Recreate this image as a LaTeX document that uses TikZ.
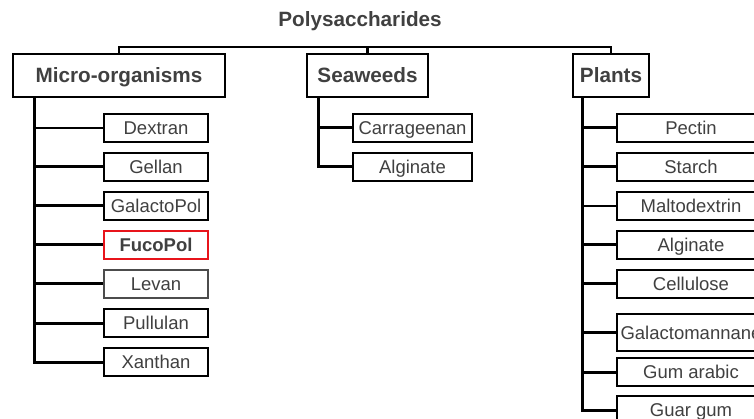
\documentclass[tikz,border=0pt]{standalone}
\usepackage{fontspec}
\setmainfont{Liberation Sans}
\definecolor{txt}{HTML}{404040}
\definecolor{fred}{HTML}{E8141B}
\begin{document}
\begin{tikzpicture}[x=1pt,y=-1pt,
  leaf/.style={draw=black, line width=1.3pt, fill=white, inner sep=0pt,
    text height=13.3pt, text depth=0pt, minimum height=28pt,
    font=\fontsize{18.5}{20}\selectfont, text=txt},
  head/.style={draw=black, line width=1.3pt, fill=white, inner sep=0pt,
    minimum height=43pt, text height=14.8pt, text depth=0pt,
    font=\fontsize{20.7}{24}\selectfont\bfseries, text=txt},
  micro/.style={leaf, minimum width=104pt},
  sea/.style={leaf, minimum width=119pt},
  plant/.style={leaf, minimum width=148pt},
  thickc/.style={line width=3pt},
  thinc/.style={line width=1.2pt},
  busc/.style={line width=2.6pt}]
\useasboundingbox (0,0) rectangle (754,419);

% title
\node[inner sep=0pt, text height=14.8pt, text depth=0pt,
  font=\fontsize{20.7}{24}\selectfont\bfseries, text=txt] (title) at (360,19.5) {Polysaccharides};

% headers
\node[head, minimum width=212pt] (micro) at (119,75.5) {Micro-organisms};
\node[head, minimum width=121pt] (sea) at (367.5,75.5) {Seaweeds};
\node[head, minimum width=76pt] (plants) at (611,75.5) {Plants};

\coordinate (top) at (360,47);
\draw[busc] (micro.north) -- (micro.north |- top) -| (plants.north);
\draw[busc] (sea.north) -- (sea.north |- top);

% micro-organisms
\node[micro] (dextran) at (156,128) {Dextran};
\node[micro] (gellan) at (156,167) {Gellan};
\node[micro] (galacto) at (156,206) {GalactoPol};
\node[micro, draw=fred, font=\fontsize{18.5}{20}\selectfont\bfseries] (fuco) at (156,245) {FucoPol};
\node[micro, draw=black!70] (levan) at (156,284) {Levan};
\node[micro] (pullulan) at (156,323) {Pullulan};
\node[micro] (xanthan) at (156,362) {Xanthan};

\coordinate (mt) at (34,97);
\draw[thickc] (mt) |- (xanthan.west);
\draw[thinc] (mt |- dextran.west) -- (dextran.west);
\foreach \n in {gellan,galacto,fuco,levan,pullulan}
  \draw[thickc] (mt |- \n.west) -- (\n.west);

% seaweeds
\node[sea] (carra) at (412.5,128) {Carrageenan};
\node[sea] (algs) at (412.5,167) {Alginate};
\coordinate (st) at (318,97);
\draw[thickc] (st) |- (algs.west);
\draw[thickc] (st |- carra.west) -- (carra.west);

% plants
\node[plant] (pectin) at (691,128) {Pectin};
\node[plant] (starch) at (691,167) {Starch};
\node[plant] (malto) at (691,206) {Maltodextrin};
\node[plant] (algp) at (691,245) {Alginate};
\node[plant] (cellu) at (691,284) {Cellulose};
\node[plant, minimum height=37pt] (galman) at (691,332.5) {Galactomannane};
\node[plant] (gumar) at (691,372) {Gum arabic};
\node[plant] (guar) at (691,410) {Guar gum};

\coordinate (pt) at (582,97);
\draw[thickc] (pt) |- (guar.west);
\draw[thinc] (pt |- malto.west) -- (malto.west);
\foreach \n in {pectin,starch,algp,cellu,galman,gumar}
  \draw[thickc] (pt |- \n.west) -- (\n.west);
\end{tikzpicture}
\end{document}
